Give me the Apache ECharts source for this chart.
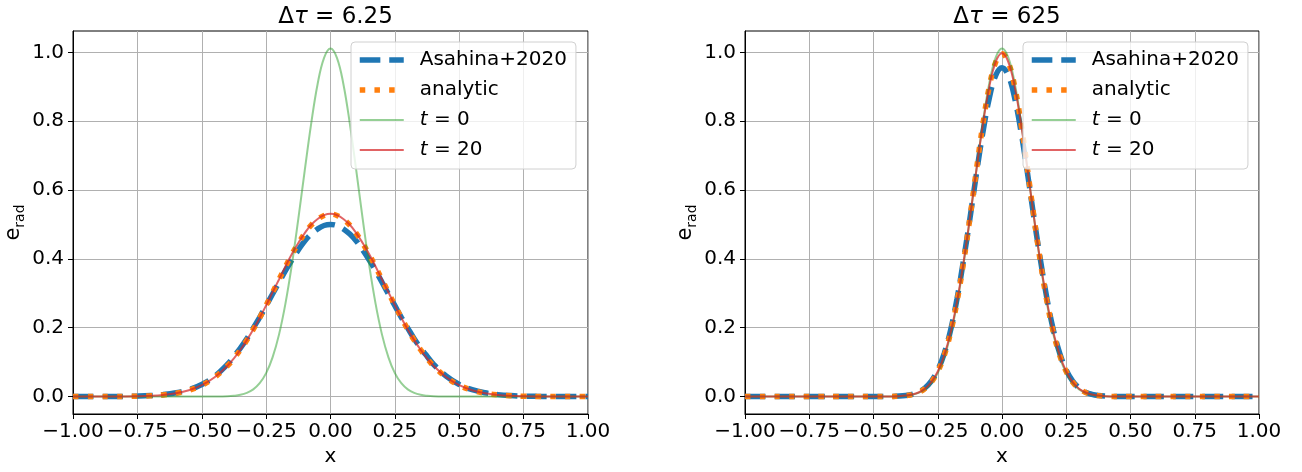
<!DOCTYPE html>
<html>
<head>
<meta charset="utf-8">
<script src="https://cdn.jsdelivr.net/npm/echarts@6/dist/echarts.min.js"></script>
<style>html,body{margin:0;padding:0;background:#fff}#c{width:1302px;height:472px}</style>
</head>
<body>
<div id="c"></div>
<script>
// ---- data ----
const xs = [-1, -0.95, -0.9, -0.85, -0.8, -0.75, -0.7, -0.65, -0.6, -0.55, -0.5, -0.45, -0.4, -0.375, -0.35, -0.325, -0.3, -0.275, -0.25, -0.225, -0.2, -0.175, -0.15, -0.125, -0.1, -0.075, -0.05, -0.025, 0, 0.025, 0.05, 0.075, 0.1, 0.125, 0.15, 0.175, 0.2, 0.225, 0.25, 0.275, 0.3, 0.325, 0.35, 0.375, 0.4, 0.45, 0.5, 0.55, 0.6, 0.65, 0.7, 0.75, 0.8, 0.85, 0.9, 0.95, 1];

// left panel, Δτ = 6.25
const leftAsahina = [0, 0, 0, 0.0002, 0.0006, 0.0013, 0.0028, 0.0057, 0.011, 0.020, 0.035, 0.059, 0.094, 0.117, 0.141, 0.168, 0.199, 0.230, 0.264, 0.298, 0.332, 0.366, 0.397, 0.426, 0.452, 0.472, 0.487, 0.497, 0.500, 0.497, 0.487, 0.472, 0.452, 0.426, 0.397, 0.366, 0.332, 0.298, 0.264, 0.230, 0.199, 0.168, 0.141, 0.117, 0.094, 0.059, 0.035, 0.020, 0.011, 0.0057, 0.0028, 0.0013, 0.0006, 0.0002, 0, 0, 0];
const leftAnalytic = [0, 0, 0.0001, 0.0002, 0.0004, 0.0010, 0.0023, 0.0049, 0.0097, 0.0184, 0.0329, 0.0559, 0.0895, 0.111, 0.136, 0.164, 0.195, 0.229, 0.265, 0.302, 0.340, 0.377, 0.413, 0.445, 0.474, 0.498, 0.515, 0.526, 0.530, 0.526, 0.515, 0.498, 0.474, 0.445, 0.413, 0.377, 0.340, 0.302, 0.265, 0.229, 0.195, 0.164, 0.136, 0.111, 0.0895, 0.0559, 0.0329, 0.0184, 0.0097, 0.0049, 0.0023, 0.0010, 0.0004, 0.0002, 0.0001, 0, 0];
const leftT0 = [0, 0, 0, 0, 0, 0, 0, 0, 0, 0, 0, 0.0002, 0.0010, 0.0024, 0.0051, 0.0107, 0.0209, 0.0388, 0.068, 0.114, 0.180, 0.270, 0.383, 0.516, 0.657, 0.793, 0.908, 0.984, 1.011, 0.984, 0.908, 0.793, 0.657, 0.516, 0.383, 0.270, 0.180, 0.114, 0.068, 0.0388, 0.0209, 0.0107, 0.0051, 0.0024, 0.0010, 0.0002, 0, 0, 0, 0, 0, 0, 0, 0, 0, 0, 0];
const leftT20 = [0, 0, 0.0001, 0.0002, 0.0004, 0.0010, 0.0023, 0.0049, 0.0097, 0.0184, 0.0330, 0.0560, 0.0897, 0.111, 0.136, 0.164, 0.195, 0.229, 0.265, 0.303, 0.340, 0.378, 0.414, 0.446, 0.475, 0.499, 0.516, 0.527, 0.531, 0.527, 0.516, 0.499, 0.475, 0.446, 0.414, 0.378, 0.340, 0.303, 0.265, 0.229, 0.195, 0.164, 0.136, 0.111, 0.0897, 0.0560, 0.0330, 0.0184, 0.0097, 0.0049, 0.0023, 0.0010, 0.0004, 0.0002, 0.0001, 0, 0];

// right panel, Δτ = 625
const rightAsahina = [0, 0, 0, 0, 0, 0, 0, 0, 0, 0, 0, 0.0002, 0.0014, 0.003, 0.0065, 0.013, 0.025, 0.045, 0.077, 0.125, 0.193, 0.284, 0.395, 0.516, 0.645, 0.765, 0.865, 0.932, 0.955, 0.932, 0.865, 0.765, 0.645, 0.516, 0.395, 0.284, 0.193, 0.125, 0.077, 0.045, 0.025, 0.013, 0.0065, 0.003, 0.0014, 0.0002, 0, 0, 0, 0, 0, 0, 0, 0, 0, 0, 0];
const rightAnalytic = [0, 0, 0, 0, 0, 0, 0, 0, 0, 0, 0, 0.0002, 0.0012, 0.0028, 0.0059, 0.0119, 0.0229, 0.0419, 0.0727, 0.119, 0.186, 0.276, 0.388, 0.518, 0.656, 0.788, 0.898, 0.970, 0.996, 0.970, 0.898, 0.788, 0.656, 0.518, 0.388, 0.276, 0.186, 0.119, 0.0727, 0.0419, 0.0229, 0.0119, 0.0059, 0.0028, 0.0012, 0.0002, 0, 0, 0, 0, 0, 0, 0, 0, 0, 0, 0];
const rightT0 = [0, 0, 0, 0, 0, 0, 0, 0, 0, 0, 0, 0.0002, 0.0010, 0.0024, 0.0051, 0.0107, 0.0209, 0.0388, 0.068, 0.114, 0.180, 0.270, 0.383, 0.516, 0.657, 0.793, 0.908, 0.984, 1.011, 0.984, 0.908, 0.793, 0.657, 0.516, 0.383, 0.270, 0.180, 0.114, 0.068, 0.0388, 0.0209, 0.0107, 0.0051, 0.0024, 0.0010, 0.0002, 0, 0, 0, 0, 0, 0, 0, 0, 0, 0, 0];
const rightT20 = [0, 0, 0, 0, 0, 0, 0, 0, 0, 0, 0, 0.0002, 0.0012, 0.0028, 0.0059, 0.0119, 0.0229, 0.0419, 0.0727, 0.119, 0.186, 0.276, 0.388, 0.518, 0.656, 0.788, 0.898, 0.971, 0.997, 0.971, 0.898, 0.788, 0.656, 0.518, 0.388, 0.276, 0.186, 0.119, 0.0727, 0.0419, 0.0229, 0.0119, 0.0059, 0.0028, 0.0012, 0.0002, 0, 0, 0, 0, 0, 0, 0, 0, 0, 0, 0];

const panelTitles = ['6.25', '625'];
const seriesNames = ['Asahina+2020', 'analytic', 't = 0', 't = 20'];
const xTicks = [-1, -0.75, -0.5, -0.25, 0, 0.25, 0.5, 0.75, 1];
const yTicks = [0, 0.2, 0.4, 0.6, 0.8, 1.0];

// ---- chart ----
const FONT = 'DejaVu Sans';
const panels = [
  {left: 73, width: 515, data: [leftAsahina, leftAnalytic, leftT0, leftT20]},
  {left: 745, width: 514, data: [rightAsahina, rightAnalytic, rightT0, rightT20]}
];
const styles = [
  {color: '#1f77b4', width: 5.5, type: [20.6, 8.9], cap: 'butt'},
  {color: '#ff7f0e', width: 5.5, type: [5.5, 9.2], cap: 'butt'},
  {color: '#2ca02c', width: 2, opacity: 0.5},
  {color: '#d62728', width: 2, opacity: 0.72}
];
const fmtNeg = s => s.replace('-', '\u2212');

const option = {
  animation: false,
  backgroundColor: '#fff',
  title: panels.map((p, i) => ({
    text: '\u0394{i|\u03c4} = ' + panelTitles[i],
    left: p.left + p.width / 2,
    top: 1,
    textAlign: 'center',
    textStyle: {fontFamily: FONT, fontSize: 23, fontWeight: 'normal', color: '#000',
      rich: {i: {fontFamily: FONT, fontSize: 23, fontStyle: 'italic', color: '#000'}}}
  })),
  grid: panels.map(p => ({left: p.left, width: p.width, top: 31, height: 383,
    show: true, borderColor: '#000', borderWidth: 1, containLabel: false})),
  xAxis: panels.map((p, i) => ({
    type: 'value', gridIndex: i, min: -1, max: 1, interval: 0.25,
    name: 'x', nameLocation: 'middle', nameGap: 31,
    nameTextStyle: {fontFamily: FONT, fontSize: 20, color: '#000'},
    axisLine: {show: true, onZero: false, lineStyle: {color: '#000', width: 1}},
    axisTick: {show: true, length: 5, lineStyle: {color: '#000', width: 1}},
    axisLabel: {fontFamily: FONT, fontSize: 20, color: '#000', margin: 8,
      customValues: xTicks,
      formatter: v => fmtNeg(v.toFixed(2))},
    splitLine: {show: true, lineStyle: {color: '#b0b0b0', width: 1}}
  })),
  yAxis: panels.map((p, i) => ({
    type: 'value', gridIndex: i, min: -0.0506, max: 1.0619,
    name: '{e|e}{s|rad}', nameLocation: 'middle', nameGap: 46, nameRotate: 90,
    nameTextStyle: {fontFamily: FONT, fontSize: 20, color: '#000',
      rich: {e: {fontFamily: FONT, fontSize: 21, color: '#000'},
             s: {fontFamily: FONT, fontSize: 14, color: '#000', padding: [12, 0, 0, 0]}}},
    axisLine: {show: true, onZero: false, lineStyle: {color: '#000', width: 1}},
    axisTick: {show: true, length: 5, customValues: yTicks, lineStyle: {color: '#000', width: 1}},
    axisLabel: {fontFamily: FONT, fontSize: 20, color: '#000', margin: 9,
      customValues: yTicks, formatter: v => v.toFixed(1)},
    splitLine: {show: true, customValues: yTicks, lineStyle: {color: '#b0b0b0', width: 1}}
  })),
  legend: panels.map((p, i) => ({
    orient: 'vertical', left: p.left + 278, top: 42,
    data: seriesNames, selectedMode: false,
    itemWidth: 44, itemHeight: 14, itemGap: 10,
    padding: [8, 9, 9, 6],
    backgroundColor: 'rgba(255,255,255,0.8)', borderColor: '#d0d0d0', borderWidth: 1, borderRadius: 4,
    itemStyle: {opacity: 0, borderWidth: 0},
    lineStyle: {width: 'inherit'},
    formatter: n => n.startsWith('t ') ? '{it|t}' + n.slice(1) : n,
    textStyle: {fontFamily: FONT, fontSize: 20, color: '#000', padding: [0, 0, 0, 11],
      rich: {it: {fontFamily: FONT, fontSize: 20, fontStyle: 'italic', color: '#000'}}},
    z: 10
  })),
  series: []
};

panels.forEach((p, gi) => {
  p.data.forEach((ys, si) => {
    option.series.push({
      type: 'line', name: seriesNames[si], xAxisIndex: gi, yAxisIndex: gi,
      data: xs.map((x, k) => [x, ys[k]]),
      symbol: 'none', smooth: 0.4, clip: true,
      itemStyle: {color: styles[si].color},
      lineStyle: styles[si],
      z: 2 + si
    });
  });
});

const chart = echarts.init(document.getElementById('c'), null, {renderer: 'canvas'});
chart.setOption(option);
</script>
</body>
</html>
